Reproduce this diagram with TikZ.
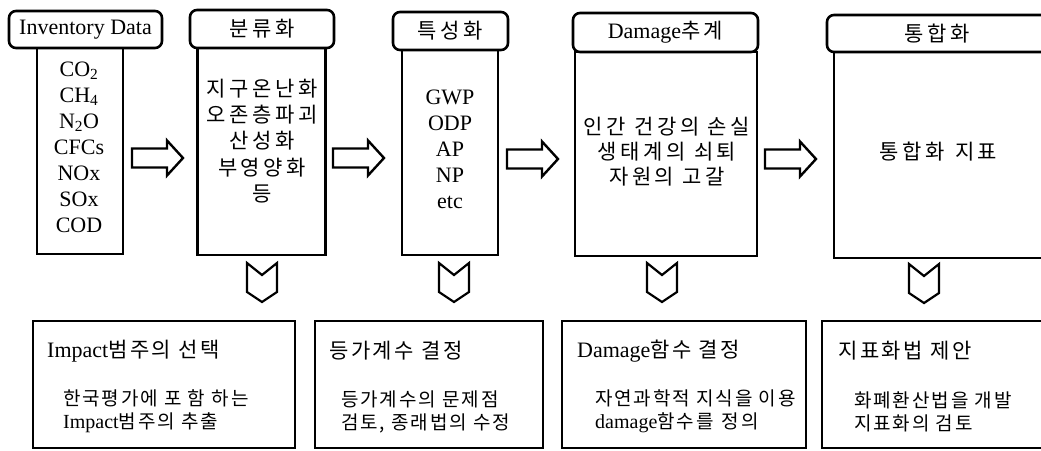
\documentclass[tikz,border=0pt]{standalone}
\usepackage{fontspec}
\setmainfont{Liberation Serif}
\newfontfamily\krfontA[LetterSpace=17]{Noto Sans CJK KR}
\newfontfamily\krfontB[LetterSpace=12]{Noto Sans CJK KR}
\newfontfamily\krfontC[LetterSpace=10]{Noto Sans CJK KR}
\newcommand\latA{\fontsize{22}{26}\selectfont}
\newcommand\latS{\fontsize{20}{23}\selectfont}
\newcommand\krA{\krfontA\fontsize{21}{26.3}\selectfont}
\newcommand\krT{\krfontB\fontsize{21}{26}\selectfont}
\newcommand\krS{\krfontC\fontsize{19}{23}\selectfont}
\tikzset{
  hdr/.style={draw, line width=2.6pt, rounded corners=7pt, fill=white, inner sep=0pt},
  colbody/.style={draw, line width=2.6pt, inner sep=0pt},
  botbox/.style={draw, line width=2.8pt, inner sep=0pt},
  txt/.style={inner sep=0pt, align=center},
  ltxt/.style={inner sep=0pt, align=left, anchor=west},
  rarrow/.pic={\draw[line width=2.4pt, line join=miter] (0,-9.5) -- (35,-9.5) -- (35,-17.5) -- (51,0) -- (35,17.5) -- (35,9.5) -- (0,9.5) -- cycle;},
  darrow/.pic={\draw[line width=2.2pt, line join=miter] (-15,0) -- (0,12) -- (15,0) -- (15,29) -- (0,39) -- (-15,29) -- cycle;}
}
\begin{document}
\begin{tikzpicture}[x=1pt,y=-1pt]
\useasboundingbox (0,0) rectangle (1041,450);
\fill[white] (0,0) rectangle (1041,450);
\clip (0,0) rectangle (1041,450);
% column bodies
\node[colbody, minimum width=86, minimum height=206] (b1) at (80,151) {};
\node[colbody, minimum width=128, minimum height=207] (b2) at (261.5,151.5) {};
\node[colbody, minimum width=96, minimum height=205] (b3) at (450,152.5) {};
\node[colbody, minimum width=182, minimum height=204] (b4) at (666,154) {};
\node[colbody, minimum width=216, minimum height=206] (b5) at (942,155) {};
% headers
\node[hdr, minimum width=153, minimum height=37, font=\latA] (h1) at (85.5,29.5) {Inventory Data};
\node[hdr, minimum width=144, minimum height=38, font=\krA] (h2) at (262,29) {분류화};
\node[hdr, minimum width=115, minimum height=38, font=\krA] (h3) at (450.5,31) {특성화};
\node[hdr, minimum width=185, minimum height=39, font=\latA] (h4) at (665.5,32.5) {Damage{\krA 추계}};
\node[hdr, minimum width=226, minimum height=37] (h5) at (940,33.5) {};
\node[txt, font=\krA] (h5t) at (937,33.5) {통합화};
% column texts
\node[txt, font=\latA] (t1) at (79,147) {CO\textsubscript{2}\\CH\textsubscript{4}\\N\textsubscript{2}O\\CFCs\\NOx\\SOx\\COD};
\node[txt, font=\krA] (t2) at (262,141) {지구온난화\\오존층파괴\\산성화\\부영양화\\등};
\node[txt, font=\latA] (t3) at (450,149) {GWP\\ODP\\AP\\NP\\etc};
\node[txt, font=\krfontA\fontsize{21}{25}\selectfont] (t4) at (667,152) {인간 건강의 손실\\생태계의 쇠퇴\\자원의 고갈};
\node[txt, font=\krA] (t5) at (938.5,152) {통합화\ \hspace{2pt}지표};
% right arrows
\pic (a1) at (132,158) {rarrow};
\pic (a2) at (333,158) {rarrow};
\pic (a3) at (507,159) {rarrow};
\pic (a4) at (765,159) {rarrow};
% down chevrons
\pic (d2) at (262,263) {darrow};
\pic (d3) at (454,263) {darrow};
\pic (d4) at (662,263) {darrow};
\pic (d5) at (924,264) {darrow};
% bottom boxes
\node[botbox, minimum width=262, minimum height=127] (bb1) at (164,384.5) {};
\node[botbox, minimum width=228, minimum height=127] (bb2) at (429,384.5) {};
\node[botbox, minimum width=244, minimum height=127] (bb3) at (684,384.5) {};
\node[botbox, minimum width=228, minimum height=127] (bb4) at (936,384.5) {};
% bottom titles
\node[ltxt, font=\latA] (ti1) at (47,351) {Impact{\krT 범주의 선택}};
\node[ltxt, font=\krT] (ti2) at (329,351) {등가계수 결정};
\node[ltxt, font=\latA] (ti3) at (577,351) {Damage{\krT 함수 결정}};
\node[ltxt, font=\krT] (ti4) at (838,351) {지표화법 제안};
% bottom sub texts
\node[ltxt, font=\latS] (su1) at (63,411.5) {{\krS 한국평가에 포 함 하는}\\Impact{\krS 범주의 추출}};
\node[ltxt, font=\krS] (su2) at (341,411.5) {등가계수의 문제점\\검토, 종래법의 수정};
\node[ltxt, font=\latS] (su3) at (595,411.5) {{\krS 자연과학적 지식을 이용}\\damage{\krS 함수를\hspace{8pt}정의}};
\node[ltxt, font=\krS] (su4) at (854,411.5) {화폐환산법을 개발\\지표화의 검토};
\end{tikzpicture}
\end{document}
